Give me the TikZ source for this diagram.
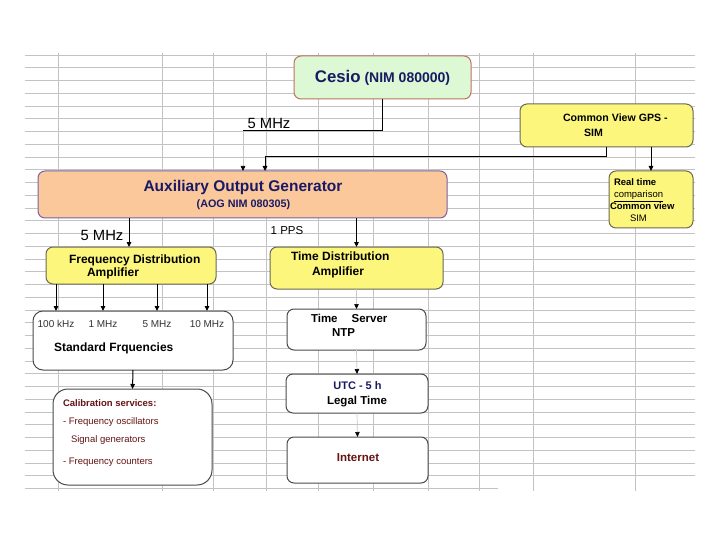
\documentclass[tikz,border=0pt]{standalone}
\usepackage{fontspec}
\setmainfont{Liberation Sans}
\usetikzlibrary{positioning, arrows.meta, calc, backgrounds}
\definecolor{gridLn}{RGB}{195,195,195}
\definecolor{cesFill}{RGB}{220,248,212}
\definecolor{cesBrd}{RGB}{190,115,95}
\definecolor{yelFill}{RGB}{252,246,124}
\definecolor{yelBrd}{RGB}{105,105,85}
\definecolor{aogFill}{RGB}{251,200,156}
\definecolor{aogBrd}{RGB}{120,100,160}
\definecolor{whtBrd}{RGB}{75,75,75}
\definecolor{navyTx}{RGB}{26,26,100}
\definecolor{redTx}{RGB}{100,20,20}
\newcommand{\fsz}[2]{\fontsize{#1}{#2}\selectfont}
\tikzset{
  every node/.style={inner sep=0pt, outer sep=0pt},
  B/.style={draw, rounded corners=7pt, line width=1pt},
  CES/.style={B, fill=cesFill, draw=cesBrd},
  YEL/.style={B, fill=yelFill, draw=yelBrd},
  AOG/.style={B, fill=aogFill, draw=aogBrd},
  WHT/.style={B, fill=white, draw=whtBrd},
  AR/.style={-{Triangle[length=5pt,width=4.5pt]}, line width=1pt, black},
  FA/.style={-{Triangle[length=5pt,width=4.5pt,color=black]}, line width=0.7pt, black!22},
  LN/.style={line width=1pt, black},
  TL/.style={anchor=mid west},
  SFQ/.style={anchor=mid, font=\fsz{10}{12}, text=black!80},
}

\begin{document}
\begin{tikzpicture}[x=1pt, y=1pt, yscale=-1]
\useasboundingbox (0,0) rectangle (720,540);

%% spreadsheet grid
\begin{scope}[on background layer]
  \fill[white] (0,0) rectangle (720,540);
  \foreach \k in {0,...,33}
    \draw[gridLn, line width=0.8pt] (25,55+12.75*\k) -- (695,55+12.75*\k);
  \draw[gridLn, line width=0.8pt] (25,488.5) -- (498,488.5);
  \foreach \gx in {58,162,213,266,318,373,428,479,533,635}
    \draw[gridLn, line width=0.8pt] (\gx,53) -- (\gx,491);
\end{scope}

%% boxes
\node[CES, minimum width=177pt, minimum height=43pt] (CES) at (382.5,77.5) {};
\node[YEL, minimum width=173pt, minimum height=43pt] (GPS) at (606.5,125.5) {};
\node[YEL, minimum width=84pt, minimum height=57pt] (RTC) at (651,199.5) {};
\node[AOG, minimum width=409pt, minimum height=47pt] (AOG) at (242.5,194.5) {};
\node[YEL, minimum width=170pt, minimum height=37pt] (FDA) at (131,265.5) {};
\node[YEL, minimum width=173pt, minimum height=42pt] (TDA) at (356.5,268) {};
\node[WHT, rounded corners=10pt, minimum width=200pt, minimum height=59pt] (STF) at (133,340.5) {};
\node[WHT, rounded corners=15pt, minimum width=159pt, minimum height=96pt] (CAL) at (132.5,437) {};
\node[WHT, minimum width=139pt, minimum height=41pt] (NTP) at (356.5,329.5) {};
\node[WHT, minimum width=142pt, minimum height=39pt] (UTC) at (357,393.5) {};
\node[WHT, minimum width=141pt, minimum height=46pt] (NET) at (357.5,460) {};

%% texts
\node[font=\fsz{14}{17}\bfseries, text=navyTx] (cesT) at (382.5,78)
  {{\fsz{16.8}{20}Cesio} (NIM 080000)};
\node[font=\fsz{15.5}{18}\bfseries, text=navyTx] (aogT) at (243,187)
  {Auxiliary Output Generator};
\node[font=\fsz{10.8}{13}\bfseries, text=navyTx] (aogS) at (243.5,205)
  {(AOG NIM 080305)};
\node[TL, font=\fsz{10.6}{12}\bfseries] (gpsA) at (563,119) {Common View GPS -};
\node[TL, font=\fsz{10.6}{12}\bfseries] (gpsB) at (584,134) {SIM};
\node[TL, font=\fsz{9.5}{11}\bfseries] (rtcA) at (614,183) {Real time};
\node[TL, font=\fsz{9.5}{11}] (rtcB) at (614,195) {\underline{comparison}};
\node[TL, font=\fsz{9.5}{11}\bfseries] (rtcC) at (610,207) {Common view};
\node[TL, font=\fsz{9.5}{11}] (rtcD) at (630,219) {SIM};
\node[TL, font=\fsz{12}{14}\bfseries] (fdaA) at (69,261) {Frequency Distribution};
\node[TL, font=\fsz{12}{14}\bfseries] (fdaB) at (87,274) {Amplifier};
\node[TL, font=\fsz{12}{14}\bfseries] (tdaA) at (291,258) {Time Distribution};
\node[TL, font=\fsz{12}{14}\bfseries] (tdaB) at (312,273) {Amplifier};
\node[TL, font=\fsz{12}{14}\bfseries] (stfT) at (54,349) {Standard Frquencies};
\node[TL, font=\fsz{9.5}{11}\bfseries, text=redTx] (calA) at (63,404) {Calibration services:};
\node[TL, font=\fsz{9.5}{11}, text=redTx] (calB) at (63,422) {- Frequency oscillators};
\node[TL, font=\fsz{9.5}{11}, text=redTx] (calC) at (71,440) {Signal generators};
\node[TL, font=\fsz{9.5}{11}, text=redTx] (calD) at (63,462) {- Frequency counters};
\node[TL, font=\fsz{11.5}{14}\bfseries] (ntpA) at (311,320) {Time\hspace{14pt}Server};
\node[TL, font=\fsz{11.5}{14}\bfseries] (ntpB) at (332,334) {NTP};
\node[font=\fsz{11}{13}\bfseries, text=navyTx] (utcA) at (357.5,386) {UTC - 5 h};
\node[font=\fsz{11.5}{13}\bfseries] (utcB) at (357,402) {Legal Time};
\node[font=\fsz{11.5}{14}\bfseries, text=redTx] (netT) at (358,458) {Internet};
\node[font=\fsz{14.8}{17}] (mhzA) at (269,123) {5 MHz};
\node[font=\fsz{14.8}{17}] (mhzB) at (102,235) {5 MHz};
\node[font=\fsz{11.5}{14}] (pps) at (287,231) {1 PPS};

%% connectors
\coordinate (c5) at (243,131);
\coordinate (g5) at (265,157);
\draw[LN] (CES.south) |- (c5);
\draw[FA] (c5) -- (c5 |- AOG.north);
\draw[AR] (GPS.south) |- (g5) -- (g5 |- AOG.north);
\draw[AR] (RTC.north |- GPS.south) -- (RTC.north);
\draw[AR] ($(AOG.south -| FDA.north)+(-2,0)$) -- ($(FDA.north)+(-2,0)$);
\draw[AR] (AOG.south -| TDA.north) -- (TDA.north);
\foreach \fx/\lbl [count=\i] in {56/100 kHz, 103/1 MHz, 157/5 MHz, 207/10 MHz} {
  \node[SFQ] (fq\i) at (\fx,325) {\lbl};
  \draw[AR] (FDA.south -| fq\i) -- (STF.north -| fq\i);
}
\draw[AR] (STF.south) -- (CAL.north);
\draw[FA] (TDA.south) -- (NTP.north);
\draw[FA] (NTP.south) -- (UTC.north);
\draw[FA] (UTC.south) -- (NET.north);

\end{tikzpicture}
\end{document}
